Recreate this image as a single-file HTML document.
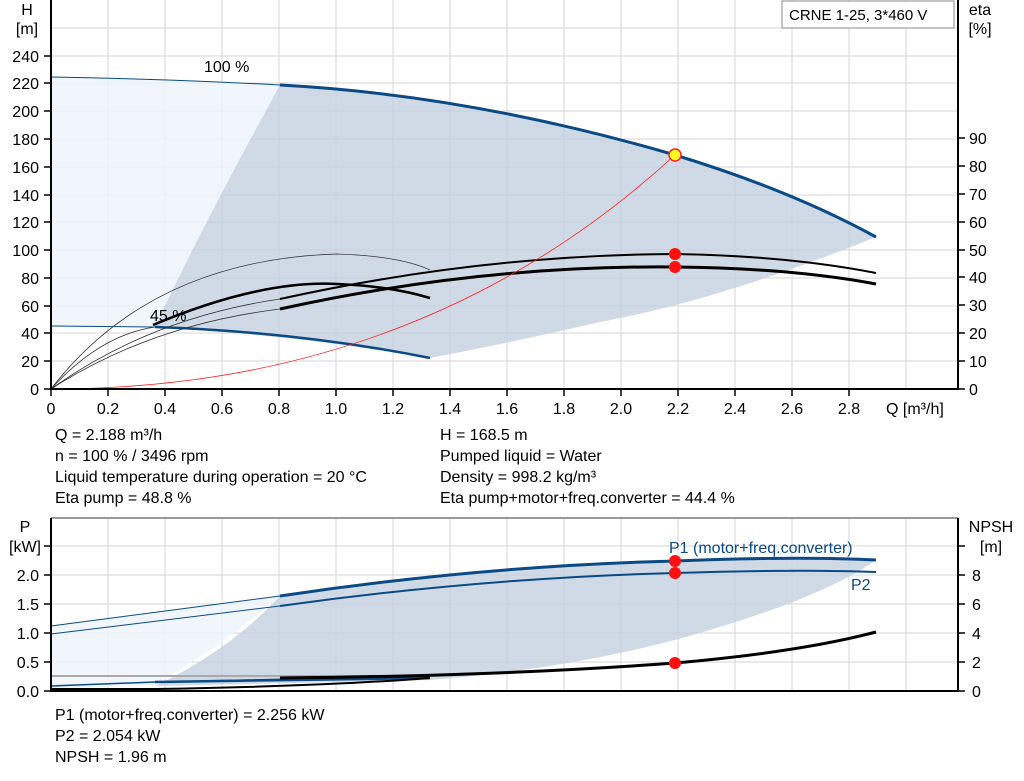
<!DOCTYPE html>
<html><head><style>
body{margin:0;background:#fff;}
svg{display:block;font-family:"Liberation Sans",Arial,sans-serif;}
</style></head><body>
<svg width="1024" height="781" viewBox="0 0 1024 781">
<rect width="1024" height="781" fill="#fff"/>
<g stroke="#d6d6d6" stroke-width="1">
<line x1="108" y1="0" x2="108" y2="389"/><line x1="165" y1="0" x2="165" y2="389"/><line x1="222" y1="0" x2="222" y2="389"/><line x1="279" y1="0" x2="279" y2="389"/><line x1="336" y1="0" x2="336" y2="389"/><line x1="393" y1="0" x2="393" y2="389"/><line x1="450" y1="0" x2="450" y2="389"/><line x1="507" y1="0" x2="507" y2="389"/><line x1="564" y1="0" x2="564" y2="389"/><line x1="621" y1="0" x2="621" y2="389"/><line x1="678" y1="0" x2="678" y2="389"/><line x1="735" y1="0" x2="735" y2="389"/><line x1="792" y1="0" x2="792" y2="389"/><line x1="849" y1="0" x2="849" y2="389"/><line x1="906" y1="0" x2="906" y2="389"/>
<line x1="51" y1="28" x2="958" y2="28"/><line x1="51" y1="56" x2="958" y2="56"/><line x1="51" y1="83" x2="958" y2="83"/><line x1="51" y1="111" x2="958" y2="111"/><line x1="51" y1="139" x2="958" y2="139"/><line x1="51" y1="167" x2="958" y2="167"/><line x1="51" y1="195" x2="958" y2="195"/><line x1="51" y1="222" x2="958" y2="222"/><line x1="51" y1="250" x2="958" y2="250"/><line x1="51" y1="278" x2="958" y2="278"/><line x1="51" y1="306" x2="958" y2="306"/><line x1="51" y1="333" x2="958" y2="333"/><line x1="51" y1="361" x2="958" y2="361"/>
</g>
<path d="M51,77 Q170,79 280,85 Q200,230 155,327 L51,326 Z" fill="#edf4fc" opacity="0.85"/>
<path d="M280,85 Q470,95 675,155 Q790,190 876,237 Q720,300 600,322 Q500,345 430,358 Q300,336 155,327 Q200,230 280,85 Z" fill="#c3d1e0" opacity="0.8"/>
<path d="M51,77 Q170,79 280,85" fill="none" stroke="#0b4a85" stroke-width="1"/>
<path d="M280,85 Q470,95 675,155 Q790,190 876,237" fill="none" stroke="#0b4a85" stroke-width="3"/>
<path d="M51,326 L155,327" stroke="#0b4a85" stroke-width="1"/>
<path d="M155,327 Q300,332 430,358" fill="none" stroke="#0b4a85" stroke-width="2.5"/>
<path d="M51,389 Q150,260 337,254 Q400,256 430,270" fill="none" stroke="#333" stroke-width="0.8"/>
<path d="M51,389 Q100,335 155,327" fill="none" stroke="#333" stroke-width="0.8"/>
<path d="M51,389 Q150,318 280,299" fill="none" stroke="#333" stroke-width="0.8"/>
<path d="M51,389 Q150,325 280,309" fill="none" stroke="#333" stroke-width="0.8"/>
<path d="M153,325 Q260,280 337,284 Q390,286 430,298" fill="none" stroke="#000" stroke-width="2.5"/>
<path d="M280,299 Q480,255 675,254 Q790,256 876,273" fill="none" stroke="#000" stroke-width="2"/>
<path d="M280,309 Q480,265 675,267 Q790,268 876,284" fill="none" stroke="#000" stroke-width="3"/>
<path d="M51,389 Q420,389 675,155" fill="none" stroke="#ff2020" stroke-width="0.8"/>
<circle cx="675" cy="155" r="6" fill="#ffff20" stroke="#ff2020" stroke-width="1.5"/>
<circle cx="675" cy="254" r="6" fill="#ff1010"/>
<circle cx="675" cy="267" r="6" fill="#ff1010"/>
<text x="204" y="72" font-size="16">100 %</text>
<text x="150" y="321" font-size="16">45 %</text>
<g stroke="#000" stroke-width="2" fill="none">
<line x1="51" y1="0" x2="51" y2="390"/><line x1="958" y1="0" x2="958" y2="390"/><line x1="50" y1="389" x2="959" y2="389"/>
</g>
<g stroke="#000" stroke-width="1.5">
<line x1="51" y1="389" x2="51" y2="396"/><line x1="108" y1="389" x2="108" y2="396"/><line x1="165" y1="389" x2="165" y2="396"/><line x1="222" y1="389" x2="222" y2="396"/><line x1="279" y1="389" x2="279" y2="396"/><line x1="336" y1="389" x2="336" y2="396"/><line x1="393" y1="389" x2="393" y2="396"/><line x1="450" y1="389" x2="450" y2="396"/><line x1="507" y1="389" x2="507" y2="396"/><line x1="564" y1="389" x2="564" y2="396"/><line x1="621" y1="389" x2="621" y2="396"/><line x1="678" y1="389" x2="678" y2="396"/><line x1="735" y1="389" x2="735" y2="396"/><line x1="792" y1="389" x2="792" y2="396"/><line x1="849" y1="389" x2="849" y2="396"/>
<line x1="44" y1="56" x2="51" y2="56"/><line x1="44" y1="83" x2="51" y2="83"/><line x1="44" y1="111" x2="51" y2="111"/><line x1="44" y1="139" x2="51" y2="139"/><line x1="44" y1="167" x2="51" y2="167"/><line x1="44" y1="195" x2="51" y2="195"/><line x1="44" y1="222" x2="51" y2="222"/><line x1="44" y1="250" x2="51" y2="250"/><line x1="44" y1="278" x2="51" y2="278"/><line x1="44" y1="306" x2="51" y2="306"/><line x1="44" y1="333" x2="51" y2="333"/><line x1="44" y1="361" x2="51" y2="361"/><line x1="44" y1="389" x2="51" y2="389"/>
<line x1="958" y1="138" x2="965" y2="138"/><line x1="958" y1="166" x2="965" y2="166"/><line x1="958" y1="194" x2="965" y2="194"/><line x1="958" y1="222" x2="965" y2="222"/><line x1="958" y1="250" x2="965" y2="250"/><line x1="958" y1="277" x2="965" y2="277"/><line x1="958" y1="305" x2="965" y2="305"/><line x1="958" y1="333" x2="965" y2="333"/><line x1="958" y1="361" x2="965" y2="361"/><line x1="958" y1="389" x2="965" y2="389"/>
</g>
<g font-size="16" text-anchor="end">
<text x="39" y="62">240</text><text x="39" y="89">220</text><text x="39" y="117">200</text><text x="39" y="145">180</text><text x="39" y="173">160</text><text x="39" y="201">140</text><text x="39" y="228">120</text><text x="39" y="256">100</text><text x="39" y="284">80</text><text x="39" y="312">60</text><text x="39" y="339">40</text><text x="39" y="367">20</text><text x="39" y="395">0</text>
</g>
<g font-size="16" text-anchor="middle">
<text x="27" y="15">H</text><text x="27" y="34">[m]</text>
<text x="980" y="15">eta</text><text x="980" y="34">[%]</text>
<text x="51" y="414">0</text><text x="108" y="414">0.2</text><text x="165" y="414">0.4</text><text x="222" y="414">0.6</text><text x="279" y="414">0.8</text><text x="336" y="414">1.0</text><text x="393" y="414">1.2</text><text x="450" y="414">1.4</text><text x="507" y="414">1.6</text><text x="564" y="414">1.8</text><text x="621" y="414">2.0</text><text x="678" y="414">2.2</text><text x="735" y="414">2.4</text><text x="792" y="414">2.6</text><text x="849" y="414">2.8</text>
</g>
<text x="886" y="414" font-size="16">Q [m³/h]</text>
<g font-size="16">
<text x="969" y="144">90</text><text x="969" y="172">80</text><text x="969" y="200">70</text><text x="969" y="228">60</text><text x="969" y="256">50</text><text x="969" y="283">40</text><text x="969" y="311">30</text><text x="969" y="339">20</text><text x="969" y="367">10</text><text x="969" y="395">0</text>
</g>
<rect x="782" y="1" width="172" height="27" fill="#fff" stroke="#888"/>
<text x="789" y="20" font-size="15">CRNE 1-25, 3*460 V</text>
<g font-size="16">
<text x="55" y="440">Q = 2.188 m³/h</text>
<text x="55" y="461">n = 100 % / 3496 rpm</text>
<text x="55" y="482">Liquid temperature during operation = 20 °C</text>
<text x="55" y="503">Eta pump = 48.8 %</text>
<text x="440" y="440">H = 168.5 m</text>
<text x="440" y="461">Pumped liquid = Water</text>
<text x="440" y="482">Density = 998.2 kg/m³</text>
<text x="440" y="503">Eta pump+motor+freq.converter = 44.4 %</text>
</g>
<g stroke="#d6d6d6" stroke-width="1">
<line x1="108" y1="518" x2="108" y2="691"/><line x1="165" y1="518" x2="165" y2="691"/><line x1="222" y1="518" x2="222" y2="691"/><line x1="279" y1="518" x2="279" y2="691"/><line x1="336" y1="518" x2="336" y2="691"/><line x1="393" y1="518" x2="393" y2="691"/><line x1="450" y1="518" x2="450" y2="691"/><line x1="507" y1="518" x2="507" y2="691"/><line x1="564" y1="518" x2="564" y2="691"/><line x1="621" y1="518" x2="621" y2="691"/><line x1="678" y1="518" x2="678" y2="691"/><line x1="735" y1="518" x2="735" y2="691"/><line x1="792" y1="518" x2="792" y2="691"/><line x1="849" y1="518" x2="849" y2="691"/><line x1="906" y1="518" x2="906" y2="691"/>
<line x1="51" y1="546" x2="958" y2="546"/><line x1="51" y1="575" x2="958" y2="575"/><line x1="51" y1="604" x2="958" y2="604"/><line x1="51" y1="633" x2="958" y2="633"/><line x1="51" y1="662" x2="958" y2="662"/>
</g>
<path d="M51,626 L280,596 Q230,640 155,685 L51,689 Z" fill="#edf4fc" opacity="0.85"/>
<path d="M280,596 Q480,566 675,561 Q800,556 876,560 Q820,600 675,640 Q560,670 430,680 L155,686 Q230,650 280,596 Z" fill="#c3d1e0" opacity="0.8"/>
<line x1="51" y1="676" x2="430" y2="676" stroke="#aaa" stroke-width="2"/>
<path d="M51,626 L280,596" stroke="#0b4a85" stroke-width="1"/>
<path d="M51,634 L280,606" stroke="#0b4a85" stroke-width="1"/>
<path d="M280,596 Q480,566 675,561 Q800,556 876,560" fill="none" stroke="#0b4a85" stroke-width="3"/>
<path d="M280,606 Q480,578 675,573 Q800,569 876,572" fill="none" stroke="#0b4a85" stroke-width="2"/>
<path d="M51,686 L155,682 L430,676" fill="none" stroke="#0b4a85" stroke-width="1.5"/>
<path d="M155,682 L430,678" stroke="#0b4a85" stroke-width="2.5"/>
<path d="M51,689 L155,689 Q330,686 430,678" fill="none" stroke="#000" stroke-width="2"/>
<path d="M280,678 Q500,676 675,663 Q800,652 876,632" fill="none" stroke="#000" stroke-width="3"/>
<circle cx="675" cy="561" r="6" fill="#ff1010"/>
<circle cx="675" cy="573" r="6" fill="#ff1010"/>
<circle cx="675" cy="663" r="6" fill="#ff1010"/>
<text x="669" y="553" font-size="16" fill="#0b4a85">P1 (motor+freq.converter)</text>
<text x="851" y="590" font-size="16" fill="#0b4a85">P2</text>
<line x1="51" y1="518" x2="958" y2="518" stroke="#999" stroke-width="2"/>
<g stroke="#000" stroke-width="2"><line x1="51" y1="518" x2="51" y2="692"/><line x1="958" y1="518" x2="958" y2="692"/><line x1="50" y1="691" x2="959" y2="691"/></g>
<g stroke="#000" stroke-width="1.5">
<line x1="44" y1="546" x2="51" y2="546"/><line x1="44" y1="575" x2="51" y2="575"/><line x1="44" y1="604" x2="51" y2="604"/><line x1="44" y1="633" x2="51" y2="633"/><line x1="44" y1="662" x2="51" y2="662"/><line x1="44" y1="691" x2="51" y2="691"/>
<line x1="958" y1="546" x2="965" y2="546"/><line x1="958" y1="575" x2="965" y2="575"/><line x1="958" y1="604" x2="965" y2="604"/><line x1="958" y1="633" x2="965" y2="633"/><line x1="958" y1="662" x2="965" y2="662"/><line x1="958" y1="691" x2="965" y2="691"/>
</g>
<g font-size="16" text-anchor="end">
<text x="39" y="581">2.0</text><text x="39" y="610">1.5</text><text x="39" y="639">1.0</text><text x="39" y="668">0.5</text><text x="39" y="697">0.0</text>
</g>
<g font-size="16" text-anchor="middle">
<text x="25" y="532">P</text><text x="25" y="552">[kW]</text>
<text x="991" y="532">NPSH</text><text x="991" y="552">[m]</text>
</g>
<g font-size="16">
<text x="972" y="581">8</text><text x="972" y="610">6</text><text x="972" y="639">4</text><text x="972" y="668">2</text><text x="972" y="697">0</text>
</g>
<g font-size="16">
<text x="55" y="720">P1 (motor+freq.converter) = 2.256 kW</text>
<text x="55" y="741">P2 = 2.054 kW</text>
<text x="55" y="762">NPSH = 1.96 m</text>
</g>
</svg>
</body></html>
